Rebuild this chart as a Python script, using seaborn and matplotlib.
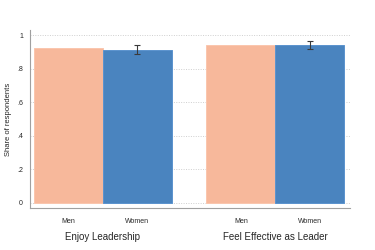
import matplotlib
matplotlib.use("Agg")
import matplotlib.pyplot as plt
import seaborn as sns
import pandas as pd
import numpy as np

groups = ["Enjoy Leadership", "Feel Effective as Leader"]
genders = ["Men", "Women"]
men_vals = [0.923, 0.940]
women_vals = [0.910, 0.940]
women_lo = [0.887, 0.917]
women_hi = [0.940, 0.965]
yticks = [0, 0.2, 0.4, 0.6, 0.8, 1.0]
ytick_labels = ["0", ".2", ".4", ".6", ".8", "1"]

df = pd.DataFrame({
    "group": groups * 2,
    "gender": ["Men"] * 2 + ["Women"] * 2,
    "value": men_vals + women_vals,
})

sns.set_style("white")
plt.rcParams["font.family"] = ["Liberation Sans", "DejaVu Sans"]

fig = plt.figure(figsize=(3.75, 2.5), dpi=100)
ax = fig.add_axes([0.08, 0.168, 0.853, 0.712])

colors = {"Men": "#F7B89B", "Women": "#4A84BF"}
sns.barplot(data=df, x="group", y="value", hue="gender", order=groups,
            hue_order=genders, palette=colors, errorbar=None, width=0.8,
            saturation=1, ax=ax, legend=False, zorder=2)

for patch in ax.patches:
    fc = matplotlib.colors.to_hex(patch.get_facecolor())
    patch.set_edgecolor("#5B93CE" if fc.lower() == colors["Women"].lower() else "#FAC6AE")
    patch.set_linewidth(0.7)

women_centers = []
for patch in ax.patches:
    fc = matplotlib.colors.to_hex(patch.get_facecolor())
    if fc.lower() == colors["Women"].lower() and patch.get_height() > 0:
        women_centers.append(patch.get_x() + patch.get_width() / 2)
women_centers = sorted(women_centers)
men_centers = [c - 0.4 for c in women_centers]

for c, v, lo, hi in zip(women_centers, women_vals, women_lo, women_hi):
    ax.errorbar([c], [v], yerr=[[v - lo], [hi - v]], fmt="none",
                ecolor="#3a3a3a", elinewidth=0.8, capsize=2, capthick=0.8, zorder=3)

ax.set_ylim(-0.03, 1.03)
ax.set_xlim(-0.423, 1.432)
ax.set_yticks(yticks)
ax.set_yticklabels(ytick_labels)
for y in yticks:
    ax.axhline(y, color="#cfcfcf", lw=0.7, ls=(0, (1, 1.5)), zorder=1)

xt = []
xl = []
for m, w in zip(men_centers, women_centers):
    xt += [m, w]
    xl += ["Men", "Women"]
ax.set_xticks(xt)
ax.set_xticklabels(xl)
ax.set_xlabel("")
ax.set_ylabel("Share of respondents", fontsize=5.5, labelpad=4)

ax.tick_params(axis="both", labelsize=5, length=2, width=0.5, color="#999999", pad=3)
ax.tick_params(axis="x", pad=5)

for s in ["top", "right"]:
    ax.spines[s].set_visible(False)
for s in ["left", "bottom"]:
    ax.spines[s].set_color("#a0a0a0")
    ax.spines[s].set_linewidth(0.8)

for i, g in enumerate(groups):
    center = (men_centers[i] + women_centers[i]) / 2
    ax.text(center, -0.205, g, ha="center", va="center", fontsize=7,
            transform=ax.transData, clip_on=False)

fig.savefig("out.png", dpi=100, facecolor="white")
